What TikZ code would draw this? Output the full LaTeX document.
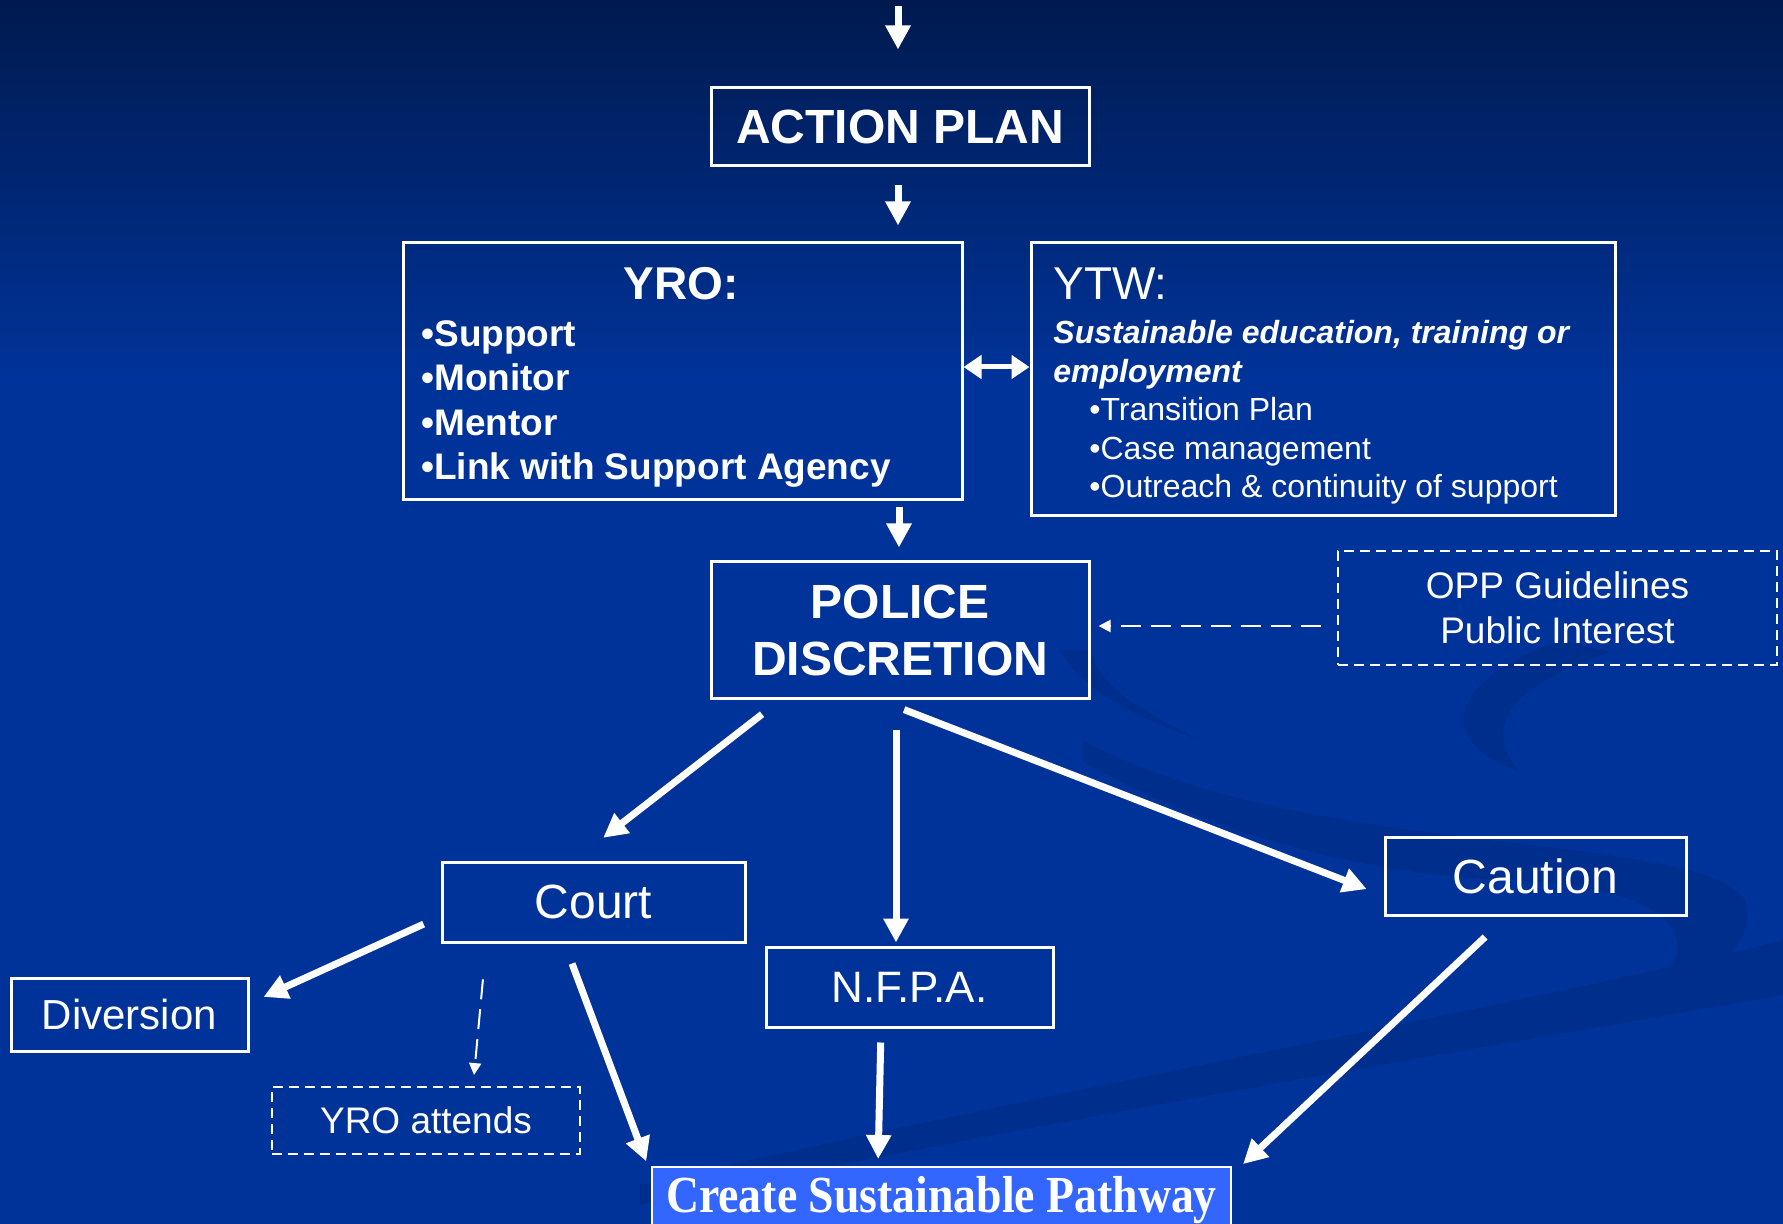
\documentclass[tikz,border=0pt]{standalone}
\usepackage{fontspec}
\usepackage{graphicx}
\setmainfont{Liberation Sans}
\newfontfamily\pathfont{Liberation Serif}
\usetikzlibrary{arrows.meta,positioning}

\definecolor{navytop}{HTML}{001A4F}
\definecolor{slideblue}{HTML}{003399}
\definecolor{swoosh}{HTML}{002E8C}
\definecolor{pathblue}{HTML}{3366FF}

\tikzset{
  box/.style={draw=white,line width=1.5pt,text=white,inner sep=0pt,align=center},
  dashbox/.style={draw=white,line width=1pt,dash pattern=on 5pt off 3pt,text=white,inner sep=0pt,align=center},
  txt/.style={text=white,inner sep=0pt},
  flowarrow/.style={white,line width=3.5pt,-{Triangle[length=12pt,width=12pt]}},
  linkarrow/.style={white,line width=2.5pt,{Triangle[length=9pt,width=11.5pt]}-{Triangle[length=9pt,width=11.5pt]}},
  hintarrow/.style={white,line width=1pt,dash pattern=on 10pt off 5pt,-{Triangle[length=6pt,width=6pt]}}
}

\begin{document}
\begin{tikzpicture}[x=0.5pt,y=-0.5pt]
  \useasboundingbox (0,0) rectangle (1783,1224);
  % Background
  \fill[slideblue] (0,0) rectangle (1783,1224);
  \shade[top color=navytop,bottom color=slideblue] (0,0) rectangle (1783,380);
  \fill[swoosh] (1783,940) .. controls (1500,1010) and (1100,1080) .. (640,1185)
    -- (640,1205) .. controls (1100,1110) and (1500,1045) .. (1783,995) -- cycle;
  \fill[swoosh] (1083,740) .. controls (1300,860) and (1700,830) .. (1745,900)
    .. controls (1760,950) and (1700,985) .. (1640,995)
    .. controls (1710,950) and (1690,885) .. (1500,880)
    .. controls (1300,870) and (1150,800) .. (1083,762) -- cycle;
  \fill[swoosh] (1560,640) .. controls (1450,680) and (1430,740) .. (1520,772)
    .. controls (1485,730) and (1500,690) .. (1610,652) -- cycle;
  \fill[swoosh] (1060,650) .. controls (1080,690) and (1140,720) .. (1200,740)
    .. controls (1150,715) and (1100,690) .. (1090,650) -- cycle;

  % Boxes
  \node[box,minimum width=189pt,minimum height=39pt,font=\bfseries\fontsize{24}{28}\selectfont] (action) at (900,127) {ACTION PLAN};
  \node[box,minimum width=279.5pt,minimum height=128.5pt] (yro) at (682.5,371.5) {};
  \node[txt,anchor=base,font=\bfseries\fontsize{23}{27}\selectfont] (yrotitle) at (681,300) {YRO:};
  \node[txt,anchor=north west,align=left,font=\bfseries\fontsize{18.5}{22.25}\selectfont] (yrolist) at (421,320)
    {•Support\\•Monitor\\•Mentor\\•Link with Support Agency};
  \node[box,minimum width=292pt,minimum height=136.5pt] (ytw) at (1323,379.5) {};
  \node[txt,anchor=base west,font=\fontsize{23}{27}\selectfont] (ytwtitle) at (1053,300) {YTW:};
  \node[txt,anchor=north west,align=left,font=\fontsize{16}{19.25}\selectfont] (ytwlist) at (1053,320)
    {\textbf{\textit{Sustainable education, training or}}\\
     \textbf{\textit{employment}}\\
     \hspace*{18pt}•Transition Plan\\
     \hspace*{18pt}•Case management\\
     \hspace*{18pt}•Outreach \& continuity of support};
  \node[box,minimum width=189pt,minimum height=68pt,font=\bfseries\fontsize{24}{28.5}\selectfont] (police) at (900,630) {POLICE\\DISCRETION};
  \node[dashbox,minimum width=219.5pt,minimum height=57pt,font=\fontsize{18.5}{22.5}\selectfont] (opp) at (1557.5,608) {OPP Guidelines\\Public Interest};
  \node[box,minimum width=151.5pt,minimum height=40pt,font=\fontsize{24}{28}\selectfont] (court) at (593.5,902) {Court};
  \node[box,minimum width=150.5pt,minimum height=39pt,font=\fontsize{24}{28}\selectfont] (caution) at (1535.5,876) {Caution};
  \node[box,minimum width=143.5pt,minimum height=40pt,font=\fontsize{22}{26}\selectfont] (nfpa) at (909.5,987) {N.F.P.A.};
  \node[box,minimum width=118.5pt,minimum height=36.5pt,font=\fontsize{21}{25}\selectfont] (diversion) at (129.5,1014.5) {Diversion};
  \node[dashbox,minimum width=154pt,minimum height=33.5pt,font=\fontsize{18.5}{22}\selectfont] (yroatt) at (426,1120.5) {YRO attends};
  \node[box,fill=pathblue,line width=1pt,minimum width=289.5pt,minimum height=41.5pt] (create) at (941.5,1208.5) {};
  \node[txt,anchor=base,font=\pathfont\bfseries\fontsize{26}{30}\selectfont] (createtext) at (941.5,1212)
    {\scalebox{0.88}[1]{Create Sustainable Pathway}};

  % Connectors
  \coordinate (intop) at (898,6);
  \draw[flowarrow,shorten >=18.5pt] (intop) -- (intop |- action.north);
  \draw[flowarrow,shorten <=9pt,shorten >=8pt] ([xshift=-1pt]action.south) -- ([xshift=-1pt]action.south |- yro.north);
  \draw[linkarrow] ([yshift=2.25pt]yro.east) -- ([yshift=2.25pt]yro.east -| ytw.west);
  \draw[flowarrow,shorten <=3pt,shorten >=6.5pt] ([xshift=-0.5pt]police.north |- yro.south) -- ([xshift=-0.5pt]police.north);
  \draw[hintarrow,shorten <=8pt,shorten >=4pt] ([yshift=-9pt]opp.west) -- ([yshift=-9pt]opp.west -| police.east);
  \draw[flowarrow,shorten <=12pt,shorten >=18.5pt] ([xshift=-59.5pt]police.south) -- ([xshift=-9.75pt]court.north);
  \draw[flowarrow,shorten <=15pt,shorten >=1.5pt] ([xshift=-2pt]police.south) -- ([xshift=-2pt]police.south |- nfpa.north);
  \draw[flowarrow,shorten <=14pt,shorten >=9pt] ([xshift=-11pt]police.south) -- ([yshift=-9.8pt]caution.west);
  \draw[flowarrow,shorten <=9.3pt,shorten >=7.7pt] ([yshift=-7.2pt]court.west) -- ([yshift=5.6pt]diversion.east);
  \draw[hintarrow,shorten <=18pt,shorten >=5.5pt] ([xshift=-53.6pt]court.south) -- ([xshift=23.5pt]yroatt.north);
  \draw[flowarrow,shorten <=10.7pt,shorten >=2.5pt] ([xshift=-14.5pt]court.south) -- ([xshift=-1.5pt]create.north west);
  \draw[flowarrow,shorten <=7pt,shorten >=3.5pt] ([xshift=-14.25pt]nfpa.south) -- ([xshift=-31.75pt]create.north);
  \draw[flowarrow,shorten <=15pt,shorten >=1.4pt] ([xshift=-14.25pt]caution.south) -- ([xshift=4.5pt]create.north east);
\end{tikzpicture}
\end{document}
